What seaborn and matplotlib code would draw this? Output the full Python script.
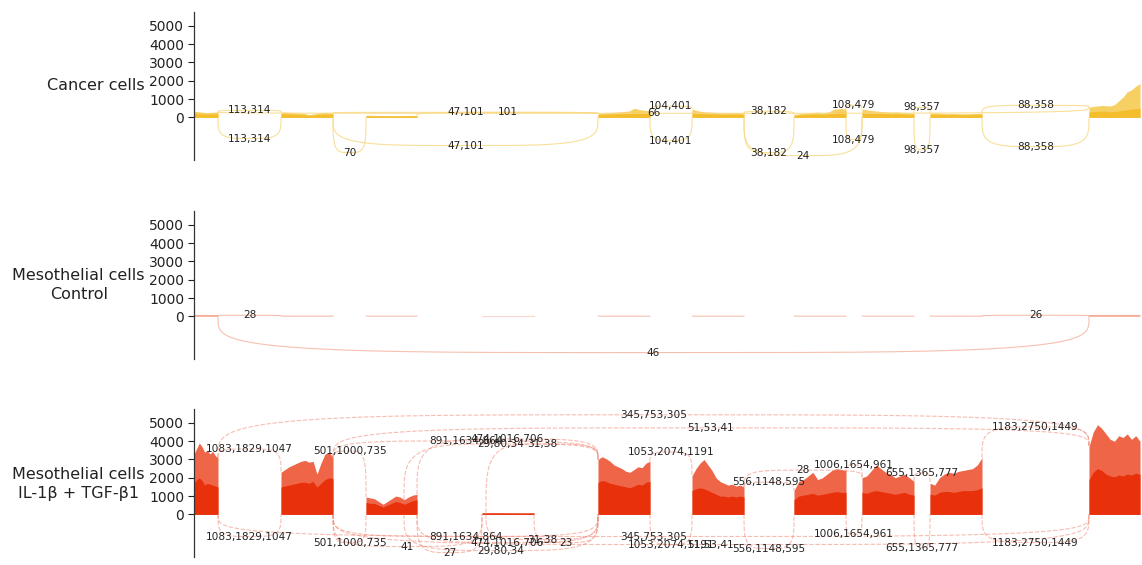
import numpy as np
import pandas as pd
import matplotlib
matplotlib.use("Agg")
import matplotlib.pyplot as plt
import seaborn as sns

# ---------------------------------------------------------------- gene model
# exon boundaries in plot coordinates along the locus
exon_starts = [0, 87, 172, 288, 404, 498, 600, 668, 736, 895]
exon_ends = [24, 139, 223, 340, 456, 550, 652, 720, 788, 946]

# ---------------------------------------------------------------- coverage
# Cancer cells: upper replicate envelope and lower replicate, per exon
cancer_high = [
    [330, 310, 290, 260, 270, 285, 300],
    [300, 285, 270, 255, 240, 200, 150, 190, 240, 270, 260, 245],
    [120, 110, 105, 100, 95, 100, 110, 105],
    [15, 15, 15, 15, 15],
    [210, 230, 260, 280, 300, 320, 350, 500, 420, 380, 350],
    [450, 360, 310, 290, 270, 255, 240, 255, 260, 225],
    [160, 200, 230, 260, 280, 250, 300, 450, 480, 470],
    [450, 400, 360, 330, 310, 290, 300, 265, 250, 235],
    [235, 250, 225, 205, 210, 200, 195, 205, 215, 225],
    [560, 600, 620, 650, 640, 620, 700, 900, 1100, 1400, 1500, 1700, 1850],
]
cancer_low = [
    [210, 200, 190, 175, 180, 190, 200],
    [200, 190, 180, 170, 160, 140, 110, 130, 160, 180, 175, 165],
    [80, 75, 70, 70, 65, 70, 75, 70],
    [10, 10, 10, 10, 10],
    [150, 160, 175, 185, 200, 210, 225, 300, 270, 250, 230],
    [280, 230, 200, 190, 180, 170, 160, 170, 175, 150],
    [110, 135, 150, 170, 185, 165, 195, 280, 300, 295],
    [290, 260, 235, 215, 205, 190, 200, 180, 170, 160],
    [160, 170, 155, 140, 145, 140, 135, 140, 150, 155],
    [300, 320, 330, 340, 330, 300, 320, 350, 380, 420, 450, 480, 500],
]

# Mesothelial cells, control
control_cov = [
    [40, 45, 42, 40, 42],
    [25, 24, 22, 24, 25],
    [20, 22, 20, 18, 20],
    [8, 8, 8, 8, 8],
    [20, 22, 24, 22, 20],
    [20, 21, 22, 20, 20],
    [18, 20, 22, 20, 18],
    [20, 22, 20, 20, 22],
    [22, 20, 24, 22, 22],
    [40, 44, 42, 45, 42],
]

# Mesothelial cells, IL-1b + TGF-b1
treated_high = [
    [3300, 3600, 3900, 3700, 3400, 3500, 3300, 3450, 3200, 3100],
    [2300, 2450, 2600, 2700, 2800, 2900, 2950, 2850, 2900, 2200, 2800, 3300, 3400, 3100],
    [950, 900, 850, 700, 550, 700, 850, 1000, 950, 800, 950, 1050, 1100],
    [90, 95, 90, 85, 90],
    [3000, 3150, 3050, 2900, 2700, 2600, 2500, 2350, 2300, 2450, 2600, 2550, 2800, 2900],
    [2100, 2500, 2800, 3000, 2700, 2400, 2000, 1800, 1700, 1600, 1650, 1550, 1600, 1500],
    [1300, 1800, 1900, 2100, 2300, 1900, 2000, 2200, 2400, 2500, 2450, 2400],
    [2000, 2100, 2400, 2700, 2500, 2300, 2200, 2000, 2100, 2200, 2000, 1800],
    [1700, 1600, 2000, 2200, 2300, 2250, 2350, 2400, 2450, 2500, 2700, 3100],
    [3700, 4500, 4900, 4700, 4400, 4100, 4000, 4300, 4200, 4400, 4100, 4300, 4000],
]
treated_low = [
    [1700, 1900, 2000, 1850, 1600, 1700, 1650, 1600, 1550, 1500],
    [1500, 1550, 1600, 1650, 1700, 1750, 1750, 1700, 1800, 1500, 1700, 1900, 2000, 1950],
    [650, 600, 600, 500, 400, 500, 600, 700, 650, 550, 650, 750, 800],
    [70, 72, 70, 68, 70],
    [1750, 1850, 1800, 1700, 1650, 1600, 1550, 1500, 1450, 1550, 1650, 1600, 1750, 1800],
    [1300, 1400, 1450, 1400, 1300, 1200, 1100, 1000, 1000, 950, 1000, 950, 1000, 950],
    [800, 1000, 1050, 1100, 1150, 1050, 1100, 1150, 1200, 1250, 1200, 1200],
    [1200, 1150, 1250, 1300, 1250, 1200, 1150, 1100, 1150, 1200, 1100, 1050],
    [1100, 1050, 1200, 1250, 1250, 1200, 1250, 1300, 1300, 1300, 1350, 1450],
    [1900, 2300, 2500, 2400, 2200, 2100, 2050, 2150, 2100, 2200, 2150, 2250, 2200],
]

# ---------------------------------------------------------------- junctions
# donor, acceptor, read counts, arc apex (reads; negative = drawn below)
cancer_jx_start = [24, 139, 223, 456, 24, 550, 652, 720, 788,
                   24, 139, 139, 456, 550, 550, 652, 720, 788]
cancer_jx_end = [87, 404, 404, 498, 895, 600, 668, 736, 895,
                 87, 172, 404, 498, 600, 668, 668, 736, 895]
cancer_jx_label = ["113,314", "47,101", "101", "104,401", "66", "38,182",
                   "108,479", "98,357", "88,358",
                   "113,314", "70", "47,101", "104,401", "38,182", "24",
                   "108,479", "98,357", "88,358"]
cancer_jx_apex = [385, 275, 275, 605, 220, 330, 660, 550, 660,
                  -1155, -1925, -1540, -1265, -1925, -2090, -1210, -1760, -1595]

control_jx_start = [24, 788, 24]
control_jx_end = [87, 895, 895]
control_jx_label = ["28", "26", "46"]
control_jx_apex = [60, 60, -1980]

treated_jx_start = [24, 139, 24, 139, 139, 223, 210, 292, 456, 550, 550, 652, 720, 788,
                    24, 139, 139, 139, 223, 223, 210, 292, 340, 24, 456, 139, 550,
                    652, 720, 788]
treated_jx_end = [87, 172, 895, 895, 404, 404, 404, 404, 498, 600, 668, 668, 736, 895,
                  87, 172, 288, 404, 288, 404, 404, 404, 404, 895, 498, 895, 600,
                  668, 736, 895]
treated_jx_label = ["1083,1829,1047", "501,1000,735", "345,753,305", "51,53,41",
                    "891,1634,864", "474,1016,706", "29,80,34", "31,38",
                    "1053,2074,1191", "556,1148,595", "28", "1006,1654,961",
                    "655,1365,777", "1183,2750,1449",
                    "1083,1829,1047", "501,1000,735", "41", "891,1634,864", "27",
                    "474,1016,706", "29,80,34", "31,38", "23", "345,753,305",
                    "1053,2074,1191", "51,53,41", "556,1148,595", "1006,1654,961",
                    "655,1365,777", "1183,2750,1449"]
treated_jx_apex = [3575, 3465, 5445, 4730, 4015, 4125, 3850, 3850, 3410, 1760, 2420,
                   2695, 2255, 4785,
                   -1210, -1540, -1760, -1210, -2090, -1540, -1980, -1375, -1540,
                   -1210, -1650, -1650, -1870, -1100, -1815, -1540]

row_names = ["Cancer cells", "Mesothelial cells\nControl",
             "Mesothelial cells\nIL-1\u03b2 + TGF-\u03b21"]
y_ticks = [0, 1000, 2000, 3000, 4000, 5000]

# ---------------------------------------------------------------- styling
sns.set_theme(style="white")
plt.rcParams["font.family"] = ["DejaVu Sans"]
TXT = "#222222"

tracks = [
    dict(high=cancer_high, low=cancer_low, c_high="#F7D064", c_low="#F4BD2C",
         arc="#F8DA88", arc_alpha=0.85, arc_ls="-",
         jx=(cancer_jx_start, cancer_jx_end, cancer_jx_label, cancer_jx_apex)),
    dict(high=control_cov, low=None, c_high="#F4AC97", c_low=None,
         arc="#F5B5A2", arc_alpha=0.85, arc_ls="-",
         jx=(control_jx_start, control_jx_end, control_jx_label, control_jx_apex)),
    dict(high=treated_high, low=treated_low, c_high="#EE6548", c_low="#E8300B",
         arc="#EF7C66", arc_alpha=0.5, arc_ls=(0, (4, 1.5)),
         jx=(treated_jx_start, treated_jx_end, treated_jx_label, treated_jx_apex)),
]

W, H = 1142, 565
fig = plt.figure(figsize=(W / 100, H / 100), dpi=100)
ax_left = 194 / W
ax_width = (W - 1 - 194) / W
ax_height = 148 / H
ax_tops = [12, 211, 409]
label_centers = [86, 285, 484]


def exon_xs(i, n):
    return np.linspace(exon_starts[i], exon_ends[i], n)


def coverage_at(x, cov):
    for i, (s, e) in enumerate(zip(exon_starts, exon_ends)):
        if s <= x <= e:
            vals = cov[i]
            return float(np.interp(x, exon_xs(i, len(vals)), vals))
    return 0.0


def arc_path(x0, x1, y0, y1, apex, n=4.0, num=160):
    th = np.linspace(np.pi, 0, num)
    c, s = np.cos(th), np.sin(th)
    u = np.sign(c) * np.abs(c) ** (2 / n)
    v = np.abs(s) ** (2 / n)
    x = (x0 + x1) / 2 + u * (x1 - x0) / 2
    base = np.where(u < 0, y0, y1)
    return x, base + (apex - base) * v


for k, tr in enumerate(tracks):
    bottom = 1 - (ax_tops[k] + 148) / H
    ax = fig.add_axes([ax_left, bottom, ax_width, ax_height])
    ax.set_xlim(0, 947)
    ax.set_ylim(-2330, 5760)

    # read coverage per exon
    for i in range(len(exon_starts)):
        hv = tr["high"][i]
        xs = exon_xs(i, len(hv))
        ax.fill_between(xs, 0, hv, color=tr["c_high"], lw=0, zorder=2)
        if tr["low"] is not None:
            lv = tr["low"][i]
            ax.fill_between(exon_xs(i, len(lv)), 0, lv, color=tr["c_low"],
                            lw=0, zorder=2)
        else:
            edge_alpha = 1.0 if i in (0, len(exon_starts) - 1) else 0.45
            sns.lineplot(x=xs, y=hv, ax=ax, color=tr["c_high"], lw=0.9,
                         alpha=edge_alpha, estimator=None, sort=False, zorder=2)

    # splice junction arcs with their read counts
    starts, ends, labels, apexes = tr["jx"]
    for x0, x1, lab, apex in zip(starts, ends, labels, apexes):
        if apex > 0:
            y0 = coverage_at(x0, tr["high"])
            y1 = coverage_at(x1, tr["high"])
        else:
            y0 = y1 = 0.0
        xa, ya = arc_path(x0, x1, y0, y1, apex)
        df = pd.DataFrame({"x": xa, "y": ya})
        sns.lineplot(data=df, x="x", y="y", ax=ax, color=tr["arc"],
                     alpha=tr["arc_alpha"], lw=0.8, linestyle=tr["arc_ls"],
                     estimator=None, sort=False, zorder=3)
        ax.text((x0 + x1) / 2, apex, lab, ha="center", va="center",
                fontsize=7.6, color=TXT, zorder=5)

    ax.set_xlabel("")
    ax.set_ylabel("")
    ax.set_xticks([])
    ax.set_yticks(y_ticks)
    ax.set_yticklabels([str(t) for t in y_ticks])
    ax.tick_params(axis="y", length=4.5, width=0.8, labelsize=10, pad=2.5,
                   colors=TXT, left=True)
    for side in ["top", "right", "bottom"]:
        ax.spines[side].set_visible(False)
    ax.spines["left"].set_color("#333333")
    ax.spines["left"].set_linewidth(0.9)
    ax.patch.set_alpha(0)

    fig.text(145 / W, 1 - label_centers[k] / H, row_names[k], ha="right",
             va="center", ma="center", fontsize=11.5, color=TXT,
             linespacing=1.3)

fig.savefig("out.png", dpi=100)
